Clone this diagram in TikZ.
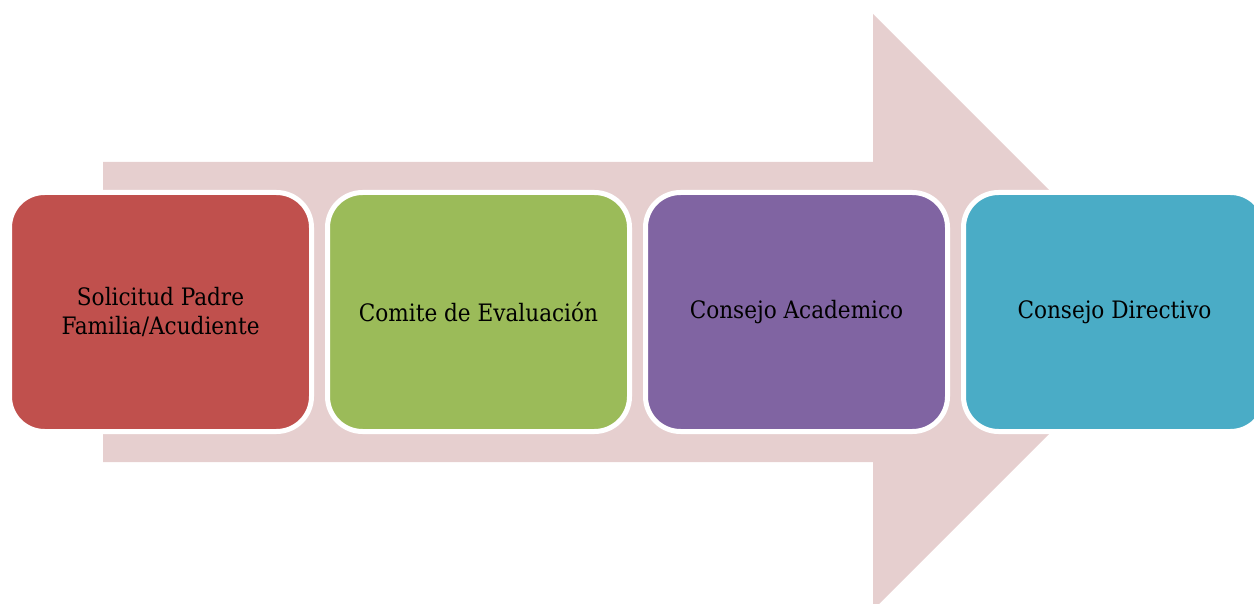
\documentclass[tikz,border=0pt]{standalone}
\usepackage{fontspec}
\setmainfont{DejaVu Serif Condensed}
\usepackage{xcolor}
\usetikzlibrary{positioning}

\definecolor{arrowpink}{HTML}{E6CFCF}
\definecolor{stagered}{HTML}{C0504D}
\definecolor{stagegreen}{HTML}{9BBB59}
\definecolor{stagepurple}{HTML}{8064A2}
\definecolor{stageteal}{HTML}{4AACC6}

\begin{document}
\begin{tikzpicture}[x=1pt, y=-1pt, node distance=318pt, on grid,
    stage/.style={rectangle, rounded corners=35pt, draw=white, line width=5pt,
        minimum width=302pt, minimum height=239pt, align=center,
        font=\fontsize{24}{29}\selectfont, text=black}]

            \useasboundingbox (0,0) rectangle (1254,604);
            \clip (0,0) rectangle (1254,604);

            % big arrow behind the stages
            \fill[arrowpink] (103,162) -- (873,162) -- (873,14) -- (1171,312)
                -- (873,610) -- (873,462) -- (103,462) -- cycle;

            \node[stage, fill=stagered] (S1) at (160.5,312) {Solicitud Padre\\Familia/Acudiente};
            \node[stage, fill=stagegreen, right=of S1] (S2) {Comite de Evaluación};
            \node[stage, fill=stagepurple, right=of S2] (S3) {Consejo Academico};
            \node[stage, fill=stageteal, right=of S3] (S4) {Consejo Directivo};

        \end{tikzpicture}
\end{document}
